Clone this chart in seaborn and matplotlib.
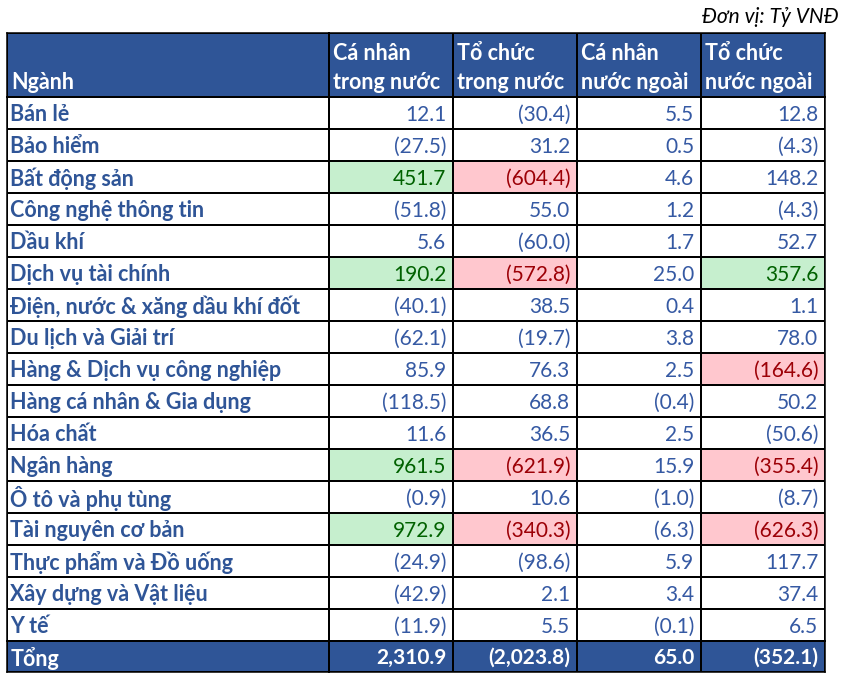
import numpy as np
import pandas as pd
import matplotlib
matplotlib.use("Agg")
import matplotlib.pyplot as plt
from matplotlib.colors import ListedColormap
import seaborn as sns

sectors = ["Bán lẻ", "Bảo hiểm", "Bất động sản", "Công nghệ thông tin", "Dầu khí",
           "Dịch vụ tài chính", "Điện, nước & xăng dầu khí đốt", "Du lịch và Giải trí",
           "Hàng & Dịch vụ công nghiệp", "Hàng cá nhân & Gia dụng", "Hóa chất",
           "Ngân hàng", "Ô tô và phụ tùng", "Tài nguyên cơ bản", "Thực phẩm và Đồ uống",
           "Xây dựng và Vật liệu", "Y tế"]
columns = ["Cá nhân\ntrong nước", "Tổ chức\ntrong nước", "Cá nhân\nnước ngoài", "Tổ chức\nnước ngoài"]
ca_nhan_trong_nuoc = [12.1, -27.5, 451.7, -51.8, 5.6, 190.2, -40.1, -62.1, 85.9, -118.5,
                      11.6, 961.5, -0.9, 972.9, -24.9, -42.9, -11.9]
to_chuc_trong_nuoc = [-30.4, 31.2, -604.4, 55.0, -60.0, -572.8, 38.5, -19.7, 76.3, 68.8,
                      36.5, -621.9, 10.6, -340.3, -98.6, 2.1, 5.5]
ca_nhan_nuoc_ngoai = [5.5, 0.5, 4.6, 1.2, 1.7, 25.0, 0.4, 3.8, 2.5, -0.4,
                      2.5, 15.9, -1.0, -6.3, 5.9, 3.4, -0.1]
to_chuc_nuoc_ngoai = [12.8, -4.3, 148.2, -4.3, 52.7, 357.6, 1.1, 78.0, -164.6, 50.2,
                      -50.6, -355.4, -8.7, -626.3, 117.7, 37.4, 6.5]
totals = [2310.9, -2023.8, 65.0, -352.1]

df = pd.DataFrame({c: v for c, v in zip(columns, [ca_nhan_trong_nuoc, to_chuc_trong_nuoc,
                                                   ca_nhan_nuoc_ngoai, to_chuc_nuoc_ngoai])},
                  index=sectors)

BLUE = "#2F5597"
TXT = "#2F5597"
FONT = ["Lato", "DejaVu Sans"]
W, H = 845, 682

def fmt(v):
    s = f"{abs(v):,.1f}"
    return f"({s})" if v < 0 else s

# highlight category: 1 = strong buy (green), 2 = strong sell (red)
cat = np.where(df.values > 150, 1, np.where(df.values < -150, 2, 0))

fig = plt.figure(figsize=(W / 100, H / 100), dpi=100)

def block(x0, x1, y0, y1):
    return fig.add_axes([x0 / W, 1 - y1 / H, (x1 - x0) / W, (y1 - y0) / H])

def draw(ax, data, colors):
    sns.heatmap(data, ax=ax, cmap=ListedColormap(colors), vmin=0, vmax=max(len(colors) - 1, 1),
                cbar=False, linewidths=1.1, linecolor="black", xticklabels=False, yticklabels=False)
    for s in ax.spines.values():
        s.set_visible(True)
        s.set_color("black")
        s.set_linewidth(1.1)

XL, XM, XR = 7, 329, 825
YT, YH, YB, YE = 33, 97, 641, 672

# header
ax = block(XL, XM, YT, YH)
draw(ax, np.zeros((1, 1)), [BLUE, BLUE])
ax.text(0.012, 0.93, "Ngành", color="white", fontsize=15.5, fontweight="bold",
        family=FONT, ha="left", va="bottom")
ax = block(XM, XR, YT, YH)
draw(ax, np.zeros((1, 4)), [BLUE, BLUE])
for j, c in enumerate(columns):
    ax.text(j + 0.03, 0.93, c, color="white", fontsize=15.5, fontweight="bold",
            family=FONT, ha="left", va="bottom", linespacing=1.45)

# body
ax = block(XL, XM, YH, YB)
draw(ax, np.zeros((len(sectors), 1)), ["white", "white"])
for i, s in enumerate(sectors):
    ax.text(0.01, i + 0.55, s, color=TXT, fontsize=15.5, fontweight="bold",
            family=FONT, ha="left", va="center")
ax = block(XM, XR, YH, YB)
draw(ax, cat, ["white", "#C6EFCE", "#FFC7CE"])
for i in range(len(sectors)):
    for j in range(len(columns)):
        v = df.iloc[i, j]
        col = {0: "#3559A3", 1: "#006100", 2: "#9C0006"}[cat[i, j]]
        ax.text(j + 0.945, i + 0.55, fmt(v), color=col, fontsize=15,
                family=FONT, ha="right", va="center")

# total
ax = block(XL, XM, YB, YE)
draw(ax, np.zeros((1, 1)), [BLUE, BLUE])
ax.text(0.01, 0.55, "Tổng", color="white", fontsize=15.5, fontweight="bold",
        family=FONT, ha="left", va="center")
ax = block(XM, XR, YB, YE)
draw(ax, np.zeros((1, 4)), [BLUE, BLUE])
for j, v in enumerate(totals):
    ax.text(j + 0.945, 0.55, fmt(v), color="white", fontsize=15, fontweight="bold",
            family=FONT, ha="right", va="center")

fig.text(839 / W, 1 - 17 / H, "Đơn vị: Tỷ VNĐ", ha="right", va="center", fontsize=15,
         style="italic", family=FONT, color="black")

fig.savefig("out.png", dpi=100)
